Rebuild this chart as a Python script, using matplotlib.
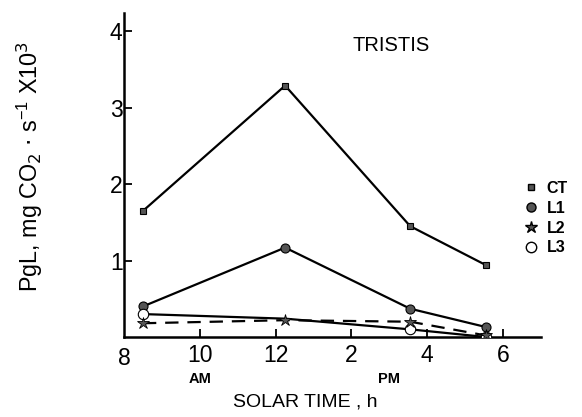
import matplotlib.pyplot as plt
from matplotlib.lines import Line2D

plt.rcParams['font.family'] = ['Liberation Sans', 'DejaVu Sans']

# Solar time in hours (24 h clock) and net photosynthesis per treatment
hours = [8.5, 12.25, 15.55, 17.55]
ct = [1.65, 3.29, 1.45, 0.94]
l1 = [0.40, 1.17, 0.37, 0.13]
l2 = [0.18, 0.22, 0.20, 0.02]
l3 = [0.30, 0.24, 0.10, 0.00]

tick_pos = [8, 10, 12, 14, 16, 18]
tick_lab = ['8', '10', '12', '2', '4', '6']

fig = plt.figure(figsize=(5.82, 4.17), dpi=100)
ax = fig.add_axes([124 / 582, 80 / 417, 417 / 582, 324 / 417])

lw = 1.6
ax.plot(hours, ct, color='black', lw=lw, marker='s', ms=4.5,
        mfc='#555555', mec='black', mew=0.8, label='CT')
ax.plot(hours, l1, color='black', lw=lw, marker='o', ms=6.5,
        mfc='#555555', mec='black', mew=0.8, label='L1')
ax.plot(hours, l3, color='black', lw=lw, marker='o', ms=7.5,
        mfc='white', mec='black', mew=0.8, label='L3', zorder=3,
        markevery=[0, 2, 3])
ax.plot(hours, l2, color='black', lw=lw, ls=(0, (6, 4)), marker='*', ms=9,
        mfc='#555555', mec='black', mew=0.6, label='L2', zorder=4)

ax.set_xlim(8, 19)
ax.set_ylim(0, 4.24)
ax.set_xticks(tick_pos[1:])
ax.set_xticklabels(tick_lab[1:])
ax.set_yticks([1, 2, 3, 4])
ax.tick_params(direction='in', length=6, width=1.3, labelsize=16.5)
ax.tick_params(axis='x', pad=5)
ax.tick_params(axis='y', pad=1)
ax.text(8, -0.13, '8', fontsize=16.5, ha='center', va='top')

for side in ['top', 'right']:
    ax.spines[side].set_visible(False)
for side in ['left', 'bottom']:
    ax.spines[side].set_linewidth(1.8)

ax.text(10, -0.46, 'AM', fontsize=10.5, fontweight='bold', ha='center', va='top')
ax.text(15, -0.46, 'PM', fontsize=10.5, fontweight='bold', ha='center', va='top')
ax.text(15.05, 3.82, 'TRISTIS', fontsize=14.5, ha='center', va='center')

fig.text(305 / 582, 1 - 402 / 417, 'SOLAR TIME , h', fontsize=14,
         ha='center', va='center')
fig.text(30 / 582, 1 - 167 / 417,
         r'PgL, mg CO$_2$ $\cdot$ s$^{\mathregular{-1}}$ X10$^3$',
         fontsize=16.8, rotation=90, ha='center', va='center')

handles = [
    Line2D([], [], ls='none', marker='s', ms=4.5, mfc='#555555', mec='black'),
    Line2D([], [], ls='none', marker='o', ms=6.5, mfc='#555555', mec='black'),
    Line2D([], [], ls='none', marker='*', ms=9, mfc='#555555', mec='black'),
    Line2D([], [], ls='none', marker='o', ms=7.5, mfc='white', mec='black'),
]
fig.legend(handles, ['CT', 'L1', 'L2', 'L3'], loc='upper left',
           bbox_to_anchor=(518 / 582, 1 - 173 / 417), frameon=False,
           handlelength=0.6, handletextpad=0.7, labelspacing=0.3,
           borderpad=0, prop={'size': 11.5, 'weight': 'bold'})

fig.savefig('out.png', dpi=100)
